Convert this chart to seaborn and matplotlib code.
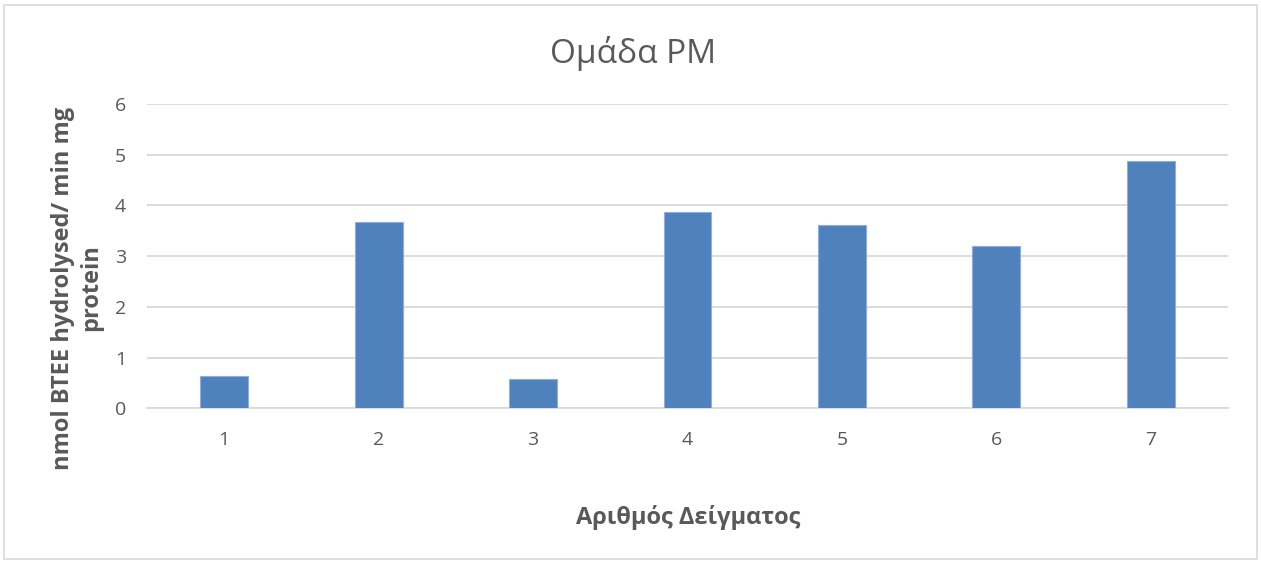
import matplotlib
matplotlib.use("Agg")
import matplotlib.pyplot as plt
import seaborn as sns
import pandas as pd
from matplotlib.patches import Rectangle

samples = ["1", "2", "3", "4", "5", "6", "7"]
activity = [0.64, 3.67, 0.58, 3.87, 3.61, 3.21, 4.88]
y_ticks = [0, 1, 2, 3, 4, 5, 6]

title = "Ομάδα PM"
x_label = "Αριθμός Δείγματος"
y_label = "nmol BTEE hydrolysed/ min mg\nprotein"

sns.set_theme(style="white")
plt.rcParams["font.family"] = ["Open Sans", "DejaVu Sans"]

df = pd.DataFrame({"sample": samples, "activity": activity})

W, H = 1261, 561
fig = plt.figure(figsize=(W / 100, H / 100), dpi=100)
ax = fig.add_axes([0.1166, 0.2722, 0.8572, 0.5424])

sns.barplot(data=df, x="sample", y="activity", color="#4f81bd", saturation=1,
            width=0.31, edgecolor="#8eaee0", linewidth=0.8, ax=ax, zorder=3)

text_color = "#595959"
ax.set_ylim(0, 6)
ax.set_xlim(-0.5, len(samples) - 0.5)
ax.set_yticks(y_ticks)
ax.set_yticklabels([str(t) for t in y_ticks])
ax.yaxis.grid(True, color="#d9d9d9", linewidth=1.3, zorder=0)
ax.xaxis.grid(False)
for side in ["top", "right", "left"]:
    ax.spines[side].set_visible(False)
ax.spines["bottom"].set_color("#d9d9d9")
ax.spines["bottom"].set_linewidth(1.3)
ax.tick_params(axis="both", length=0, labelsize=14, colors=text_color)
ax.tick_params(axis="y", pad=15)
ax.tick_params(axis="x", pad=16)
ax.set_xlabel("")
ax.set_ylabel("")

fig.text(688 / W, 1 - 517 / H, x_label, ha="center", va="center",
         fontsize=17, fontweight="bold", color=text_color)
fig.text(77 / W, 1 - 288 / H, y_label, ha="center", va="center", rotation=90,
         fontsize=17, fontweight="bold", color=text_color, linespacing=1.2,
         multialignment="center")
fig.text(633 / W, 1 - 63 / H, title, ha="center", va="baseline",
         fontsize=24, color=text_color)

# outer chart frame
fig.patches.append(Rectangle((0.003, 0.004), 0.994, 0.987, transform=fig.transFigure,
                             fill=False, edgecolor="#d9d9d9", linewidth=1.2))

fig.savefig("out.png", dpi=100)
